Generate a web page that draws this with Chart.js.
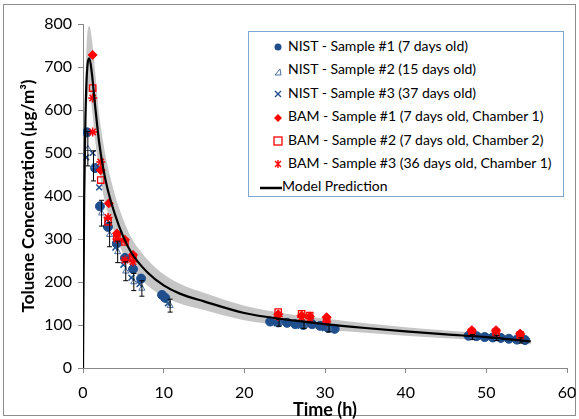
<!DOCTYPE html>
<html lang="en">
<head>
    <meta charset="UTF-8">
    <title>Toluene Concentration</title>
    <script src="https://cdn.jsdelivr.net/npm/chart.js"></script>
    <style>
        * {
            box-sizing: border-box;
            margin: 0;
            padding: 0;
        }
        body {
            background: #fff;
            width: 579px;
            height: 419px;
            overflow: hidden;
        }
        .frame {
            position: absolute;
            left: 3px;
            top: 4px;
            width: 573px;
            height: 412px;
            border: 1px solid #8c8c8c;
        }
        #chart {
            position: absolute;
            left: 0;
            top: 0;
        }
        .legend {
            position: absolute;
            left: 248px;
            top: 31px;
            width: 316px;
            height: 166px;
            border: 1px solid #7ea6d4;
            background: #fff;
            font-family: 'Lato', sans-serif;
            font-size: 14px;
            color: #000;
            padding-top: 2px;
        }
        .legend div {
            height: 23.4px;
            line-height: 23.4px;
            white-space: nowrap;
        }
        .legend svg {
            vertical-align: middle;
            margin-left: 22px;
            margin-right: 3px;
        }
    </style>
</head>
<body>
    <div class="frame"></div>
    <canvas id="chart" width="579" height="419"></canvas>
    <div class="legend">
        <div><svg width="14" height="14"><circle cx="7" cy="7" r="3.5" fill="#1f4e8c"/></svg>NIST - Sample #1 (7 days old)</div>
        <div><svg width="14" height="14"><path d="M4 11 L10 11 L9 5 Z" fill="none" stroke="#4a6fa5" stroke-width="1"/></svg>NIST - Sample #2 (15 days old)</div>
        <div><svg width="14" height="14"><path d="M4 4 L10 10 M10 4 L4 10" stroke="#1f4e8c" stroke-width="1.4"/></svg>NIST - Sample #3 (37 days old)</div>
        <div><svg width="14" height="14"><path d="M7 3 L11 7 L7 11 L3 7 Z" fill="#ff0000"/></svg>BAM - Sample #1 (7 days old, Chamber 1)</div>
        <div><svg width="14" height="14"><rect x="3" y="3" width="8" height="8" fill="none" stroke="#ff0000" stroke-width="1.3"/></svg>BAM - Sample #2 (7 days old, Chamber 2)</div>
        <div><svg width="14" height="14"><path d="M4 4 L10 10 M10 4 L4 10 M7 3 L7 11" stroke="#ff0000" stroke-width="1.4"/></svg>BAM - Sample #3 (36 days old, Chamber 1)</div>
        <div><svg width="22" height="14" style="margin-left:11px;margin-right:0"><line x1="0" y1="7" x2="22" y2="7" stroke="#000" stroke-width="2.5"/></svg>Model Prediction</div>
    </div>

    <script>
        // model curve and uncertainty band
        const modelT = [0, 0.05, 0.15, 0.3, 0.5, 0.8, 1.1, 1.5, 2, 2.5, 3, 4, 5, 6, 8, 10, 12, 15, 20, 25, 30, 35, 40, 45, 50, 55.5];
        const modelV = [0, 150, 400, 580, 690, 720, 685, 610, 525, 465, 420, 355, 305, 268, 222, 192, 173, 155, 128, 113, 102, 93, 85, 78, 72, 62];
        const bandHi = [0, 170, 450, 650, 770, 795, 765, 690, 590, 525, 475, 400, 345, 303, 252, 218, 196, 175, 145, 127, 115, 104, 95, 87, 80, 69];
        const bandLo = [0, 130, 350, 510, 610, 645, 605, 530, 460, 405, 365, 310, 265, 233, 192, 166, 150, 135, 111, 99, 89, 82, 75, 69, 64, 55];

        // NIST samples
        const nist1T = [0.5, 1.5, 2.1, 3.1, 4.2, 5.2, 6.2, 7.2, 9.8, 10.2, 23.2, 24.2, 25.3, 26.3, 27.3, 28.4, 29.4, 30.4, 31.2, 47.8, 48.8, 49.8, 50.8, 51.8, 52.8, 53.8, 54.8];
        const nist1V = [548, 465, 376, 328, 290, 256, 230, 208, 170, 163, 108, 106, 105, 102, 100, 102, 98, 93, 91, 75, 74, 72, 71, 70, 68, 66, 65];
        const nist2T = [0.6, 1.3, 2.3, 3.3, 4.3, 5.3, 6.3, 7.3, 10.8, 24.3, 27.4, 30.5, 48.3, 51.3, 54.3];
        const nist2V = [510, 470, 360, 310, 270, 225, 200, 185, 145, 105, 100, 92, 72, 70, 64];
        const nist2Err = [40, 35, 30, 28, 25, 22, 20, 18, 15, 8, 8, 8, 6, 6, 6];
        const nist3T = [0.4, 1.2, 2, 3, 4, 5, 6, 7, 10.5, 24, 27, 30, 48, 51, 54];
        const nist3V = [490, 500, 420, 345, 280, 240, 210, 195, 150, 104, 98, 92, 73, 70, 66];

        // BAM samples
        const bam1T = [1.2, 2.2, 3.2, 4.2, 5.2, 6.2, 24.2, 27.1, 28.1, 30.2, 48.2, 51.2, 54.2];
        const bam1V = [728, 460, 383, 313, 298, 263, 125, 122, 120, 118, 88, 88, 80];
        const bam2T = [1.2, 2.2, 3.1, 4.2, 5.2, 6.2, 24.2, 27.1, 28.1, 30.2, 48.2, 51.2, 54.2];
        const bam2V = [651, 437, 340, 305, 293, 258, 130, 126, 122, 112, 82, 82, 76];
        const bam3T = [1.2, 1.2, 2.2, 3.1, 4.2, 5.2, 6.2, 24.2, 27.1, 28.1, 30.2, 48.2, 51.2, 54.2];
        const bam3V = [628, 549, 479, 350, 300, 251, 247, 120, 118, 115, 108, 85, 85, 78];

        const xy = (t, v) => t.map((x, i) => ({ x: x, y: v[i] }));

        // vertical error bars for NIST #2
        const errorBars = {
            id: 'errorBars',
            afterDatasetsDraw(chart) {
                const { ctx, scales: { x, y } } = chart;
                ctx.save();
                ctx.strokeStyle = '#000';
                ctx.lineWidth = 1;
                nist2T.forEach((t, i) => {
                    const px = x.getPixelForValue(t);
                    const top = y.getPixelForValue(nist2V[i] + nist2Err[i]);
                    const bot = y.getPixelForValue(nist2V[i] - nist2Err[i]);
                    ctx.beginPath();
                    ctx.moveTo(px, top); ctx.lineTo(px, bot);
                    ctx.moveTo(px - 2.5, top); ctx.lineTo(px + 2.5, top);
                    ctx.moveTo(px - 2.5, bot); ctx.lineTo(px + 2.5, bot);
                    ctx.stroke();
                });
                ctx.restore();
            }
        };

        const font = 'Lato, sans-serif';

        new Chart(document.getElementById('chart'), {
            type: 'scatter',
            data: {
                datasets: [
                    { label: 'band hi', data: xy(modelT, bandHi), showLine: true, pointRadius: 0, borderWidth: 0, borderColor: '#c6c6c6', backgroundColor: '#c6c6c6', fill: '+1', cubicInterpolationMode: 'monotone', order: 10 },
                    { label: 'band lo', data: xy(modelT, bandLo), showLine: true, pointRadius: 0, borderWidth: 0, borderColor: '#c6c6c6', fill: false, cubicInterpolationMode: 'monotone', order: 10 },
                    { label: 'NIST - Sample #1 (7 days old)', data: xy(nist1T, nist1V), pointStyle: 'circle', pointRadius: 4.5, backgroundColor: '#1f4e8c', borderColor: '#1f4e8c', order: 5 },
                    { label: 'NIST - Sample #2 (15 days old)', data: xy(nist2T, nist2V), pointStyle: 'triangle', pointRadius: 3.5, backgroundColor: 'rgba(0,0,0,0)', borderColor: '#4a6fa5', borderWidth: 1, order: 4 },
                    { label: 'NIST - Sample #3 (37 days old)', data: xy(nist3T, nist3V), pointStyle: 'crossRot', pointRadius: 4, borderColor: '#1f4e8c', borderWidth: 1.5, order: 3 },
                    { label: 'BAM - Sample #1 (7 days old, Chamber 1)', data: xy(bam1T, bam1V), pointStyle: 'rectRot', pointRadius: 4.5, backgroundColor: '#ff0000', borderColor: '#ff0000', order: 2 },
                    { label: 'BAM - Sample #2 (7 days old, Chamber 2)', data: xy(bam2T, bam2V), pointStyle: 'rect', pointRadius: 4.5, backgroundColor: 'rgba(0,0,0,0)', borderColor: '#ff0000', borderWidth: 1.3, order: 2 },
                    { label: 'BAM - Sample #3 (36 days old, Chamber 1)', data: xy(bam3T, bam3V), pointStyle: 'star', pointRadius: 4.5, borderColor: '#ff0000', borderWidth: 1.5, order: 1 },
                    { label: 'Model Prediction', data: xy(modelT, modelV), showLine: true, pointRadius: 0, borderColor: '#000', borderWidth: 2.2, cubicInterpolationMode: 'monotone', order: 0 }
                ]
            },
            options: {
                responsive: false,
                animation: false,
                layout: { padding: { top: 24, right: 12, left: 18, bottom: 0 } },
                plugins: {
                    legend: { display: false },
                    tooltip: { enabled: false }
                },
                scales: {
                    x: {
                        type: 'linear',
                        min: 0, max: 60,
                        ticks: { stepSize: 10, maxRotation: 0, color: '#000', font: { family: font, size: 16, lineHeight: 1 }, padding: 12 },
                        grid: { drawOnChartArea: false, drawTicks: true, tickLength: 5, color: '#888' },
                        border: { color: '#888' },
                        title: { display: true, text: 'Time (h)', color: '#000', font: { family: font, size: 18, weight: 'bold', lineHeight: 1 }, padding: { top: 0, bottom: 0 } },
                        afterFit(scale) {
                            scale.height = 51;
                            scale.paddingLeft = 0;
                            scale.paddingRight = 0;
                        }
                    },
                    y: {
                        min: 0, max: 800,
                        ticks: { stepSize: 100, color: '#000', font: { family: font, size: 16 }, padding: 6 },
                        grid: { drawOnChartArea: false, drawTicks: true, tickLength: 5, color: '#888' },
                        border: { color: '#888' },
                        title: { display: true, text: 'Toluene Concentration (µg/m³)', color: '#000', font: { family: font, size: 17, weight: 'bold' }, padding: { top: 0, bottom: 4 } },
                        afterFit(scale) {
                            scale.width = 65;
                            scale.paddingTop = 0;
                            scale.paddingBottom = 0;
                        }
                    }
                }
            },
            plugins: [errorBars]
        });
    </script>
</body>
</html>
